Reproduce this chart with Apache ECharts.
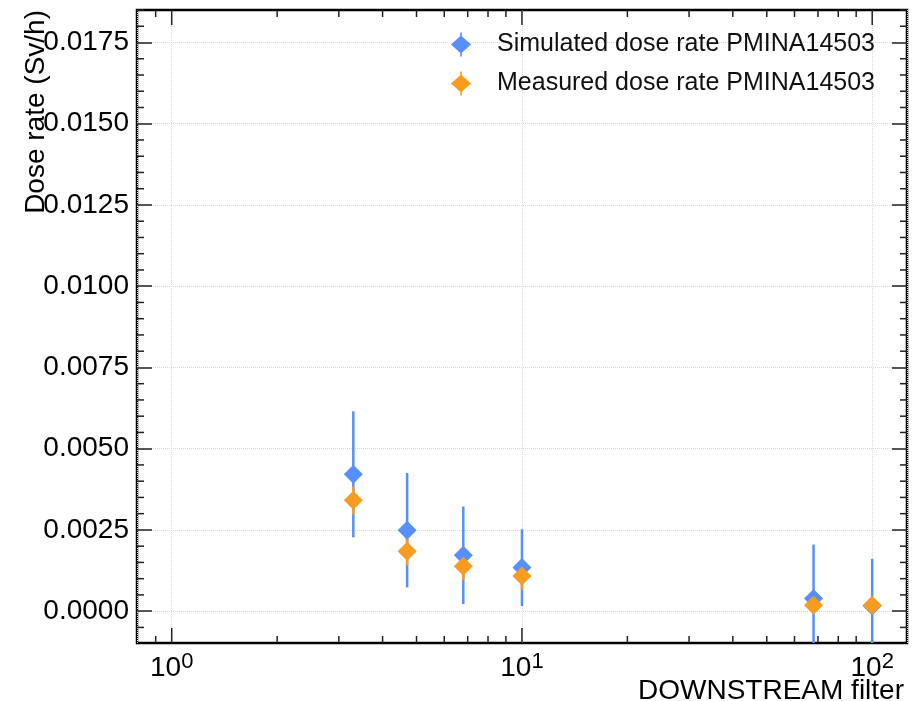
<!DOCTYPE html>
<html lang="en">
<head>
    <meta charset="UTF-8">
    <title>Dose rate vs DOWNSTREAM filter</title>
    <style>
        html,body{
            margin: 0;
            height: 100%;
            background: #fff;
        }
        #main{
            width: 923px;
            height: 701px;
        }
    </style>
</head>
<body>
<div id="main"></div>
<script src="https://cdn.jsdelivr.net/npm/echarts@6/dist/echarts.min.js"></script>
<script>
    // data
    var filterValues = [3.3, 4.7, 6.8, 10, 68, 100];
    var simDose = [0.00421, 0.00249, 0.00172, 0.00134, 0.00039, 0.00016];
    var simErr = [0.00194, 0.00176, 0.00150, 0.00118, 0.00166, 0.00145];
    var measDose = [0.00341, 0.00184, 0.00138, 0.00108, 0.00018, 0.00018];
    var measErr = [0.00043, 0.00043, 0.00043, 0.00043, 0.00020, 0.00020];

    var simName = 'Simulated dose rate PMINA14503';
    var measName = 'Measured dose rate PMINA14503';

    // axis ticks
    var xTicks = [1, 10, 100];
    var xTickExp = ['0', '1', '2'];
    var xMinorTicks = [0.9, 2, 3, 4, 5, 6, 7, 8, 9, 20, 30, 40, 50, 60, 70, 80, 90];
    var yTicks = [0, 0.0025, 0.005, 0.0075, 0.01, 0.0125, 0.015, 0.0175];
    var yTickLabels = ['0.0000', '0.0025', '0.0050', '0.0075', '0.0100', '0.0125', '0.0150', '0.0175'];

    var blue = '#5790fc';
    var orange = '#f89c20';
    var font = 'Liberation Sans, Arial, Helvetica, sans-serif';

    // minor ticks on y every 0.0005, skipping the major ones
    var yMinorTicks = [];
    for (var k = -1; k <= 37; k++) {
        if (k % 5 !== 0) yMinorTicks.push(k * 0.0005);
    }

    // x ticks as [value, length]
    var xTickMarks = xTicks.map(function (v) { return [v, 15]; })
        .concat(xMinorTicks.map(function (v) { return [v, 7]; }));

    function errData(vals, errs) {
        return filterValues.map(function (x, i) {
            return [x, vals[i] - errs[i], vals[i] + errs[i]];
        });
    }
    function pointData(vals) {
        return filterValues.map(function (x, i) {
            return [x, vals[i]];
        });
    }

    function errorBarSeries(data, color) {
        return {
            type: 'custom',
            data: data,
            silent: true,
            renderItem: function (params, api) {
                var cs = params.coordSys;
                var p1 = api.coord([api.value(0), api.value(1)]);
                var p2 = api.coord([api.value(0), api.value(2)]);
                var yTop = Math.max(cs.y, Math.min(p1[1], p2[1]));
                var yBot = Math.min(cs.y + cs.height, Math.max(p1[1], p2[1]));
                return {
                    type: 'line',
                    shape: {x1: p1[0], y1: yTop, x2: p1[0], y2: yBot},
                    style: {stroke: color, lineWidth: 2.5}
                };
            }
        };
    }

    var tickStyle = {color: '#222', width: 1.5};
    var legendIcon = 'path://M10,3L20,12L10,21L0,12ZM9.2,0H10.8V24H9.2Z';

    var chart = echarts.init(document.getElementById('main'));
    var option = {
        backgroundColor: '#fff',
        animation: false,
        grid: {
            left: 137,
            right: 16,
            top: 10,
            bottom: 58,
            show: true,
            borderColor: '#000',
            borderWidth: 2.5,
            backgroundColor: 'transparent'
        },
        legend: {
            orient: 'vertical',
            left: 446,
            top: 27,
            itemWidth: 20,
            itemHeight: 24,
            itemGap: 14,
            selectedMode: false,
            textStyle: {
                fontFamily: font,
                fontSize: 25,
                color: '#111',
                padding: [0, 0, 0, 21]
            },
            data: [
                {name: simName, icon: legendIcon},
                {name: measName, icon: legendIcon}
            ]
        },
        xAxis: {
            type: 'log',
            logBase: 10,
            min: 0.796,
            max: 125.7,
            position: 'bottom',
            axisLine: {show: false, onZero: false},
            axisTick: {show: false},
            axisLabel: {
                customValues: xTicks,
                margin: 8,
                formatter: function (v) {
                    var e = Math.round(Math.log(v) / Math.LN10);
                    return '{b|10}{s|' + xTickExp[xTicks.indexOf(Math.pow(10, e))] + '}';
                },
                rich: {
                    b: {fontFamily: font, fontSize: 28, color: '#000'},
                    s: {fontFamily: font, fontSize: 22, color: '#000', padding: [0, 0, 12, 0]}
                }
            },
            splitLine: {show: true, lineStyle: {color: '#d8d8d8', type: 'dotted', width: 1}}
        },
        yAxis: [{
            type: 'value',
            min: -0.00098,
            max: 0.0185,
            position: 'left',
            axisLine: {show: false, onZero: false},
            axisTick: {inside: true, length: 15, customValues: yTicks, lineStyle: tickStyle},
            axisLabel: {
                customValues: yTicks,
                margin: 8,
                fontFamily: font,
                fontSize: 28,
                color: '#000',
                formatter: function (v) {
                    var best = 0;
                    for (var i = 0; i < yTicks.length; i++) {
                        if (Math.abs(yTicks[i] - v) < Math.abs(yTicks[best] - v)) best = i;
                    }
                    return yTickLabels[best];
                }
            },
            splitLine: {show: true, lineStyle: {color: '#d8d8d8', type: 'dotted', width: 1}}
        }, {
            type: 'value',
            min: -0.00098,
            max: 0.0185,
            position: 'right',
            axisLine: {show: false, onZero: false},
            axisTick: {inside: true, length: 15, customValues: yTicks, lineStyle: tickStyle},
            axisLabel: {show: false},
            splitLine: {show: false}
        }],
        graphic: [{
            type: 'text',
            x: 36,
            y: 10,
            rotation: Math.PI / 2,
            style: {
                text: 'Dose rate (Sv/h)',
                fontFamily: font,
                fontSize: 28,
                fill: '#000',
                align: 'right',
                verticalAlign: 'middle'
            }
        }, {
            type: 'text',
            x: 904,
            y: 691,
            style: {
                text: 'DOWNSTREAM filter',
                fontFamily: font,
                fontSize: 28,
                fill: '#000',
                align: 'right',
                verticalAlign: 'middle'
            }
        }],
        series: [{
            // major and minor ticks on the log x axis (bottom and top)
            type: 'custom',
            silent: true,
            data: xTickMarks.map(function (t) { return [t[0], 0, t[1]]; }),
            renderItem: function (params, api) {
                var cs = params.coordSys;
                var x = api.coord([api.value(0), 0])[0];
                var len = api.value(2);
                return {
                    type: 'group',
                    children: [{
                        type: 'line',
                        shape: {x1: x, y1: cs.y + cs.height, x2: x, y2: cs.y + cs.height - len},
                        style: {stroke: '#222', lineWidth: 1.5}
                    }, {
                        type: 'line',
                        shape: {x1: x, y1: cs.y, x2: x, y2: cs.y + len},
                        style: {stroke: '#222', lineWidth: 1.5}
                    }]
                };
            }
        }, {
            // minor ticks on y (left and right)
            type: 'custom',
            silent: true,
            data: yMinorTicks.map(function (v) { return [1, v]; }),
            renderItem: function (params, api) {
                var cs = params.coordSys;
                var y = api.coord([1, api.value(1)])[1];
                return {
                    type: 'group',
                    children: [{
                        type: 'line',
                        shape: {x1: cs.x, y1: y, x2: cs.x + 7, y2: y},
                        style: {stroke: '#222', lineWidth: 1.5}
                    }, {
                        type: 'line',
                        shape: {x1: cs.x + cs.width, y1: y, x2: cs.x + cs.width - 7, y2: y},
                        style: {stroke: '#222', lineWidth: 1.5}
                    }]
                };
            }
        },
            errorBarSeries(errData(simDose, simErr), blue),
            {
                name: simName,
                type: 'scatter',
                symbol: 'diamond',
                symbolSize: 19,
                itemStyle: {color: blue, opacity: 1},
                data: pointData(simDose)
            },
            errorBarSeries(errData(measDose, measErr), orange),
            {
                name: measName,
                type: 'scatter',
                symbol: 'diamond',
                symbolSize: 19,
                itemStyle: {color: orange, opacity: 1},
                data: pointData(measDose)
            }
        ]
    };
    chart.setOption(option);
    window.addEventListener('resize', function () {
        chart.resize();
    });
</script>
</body>
</html>
